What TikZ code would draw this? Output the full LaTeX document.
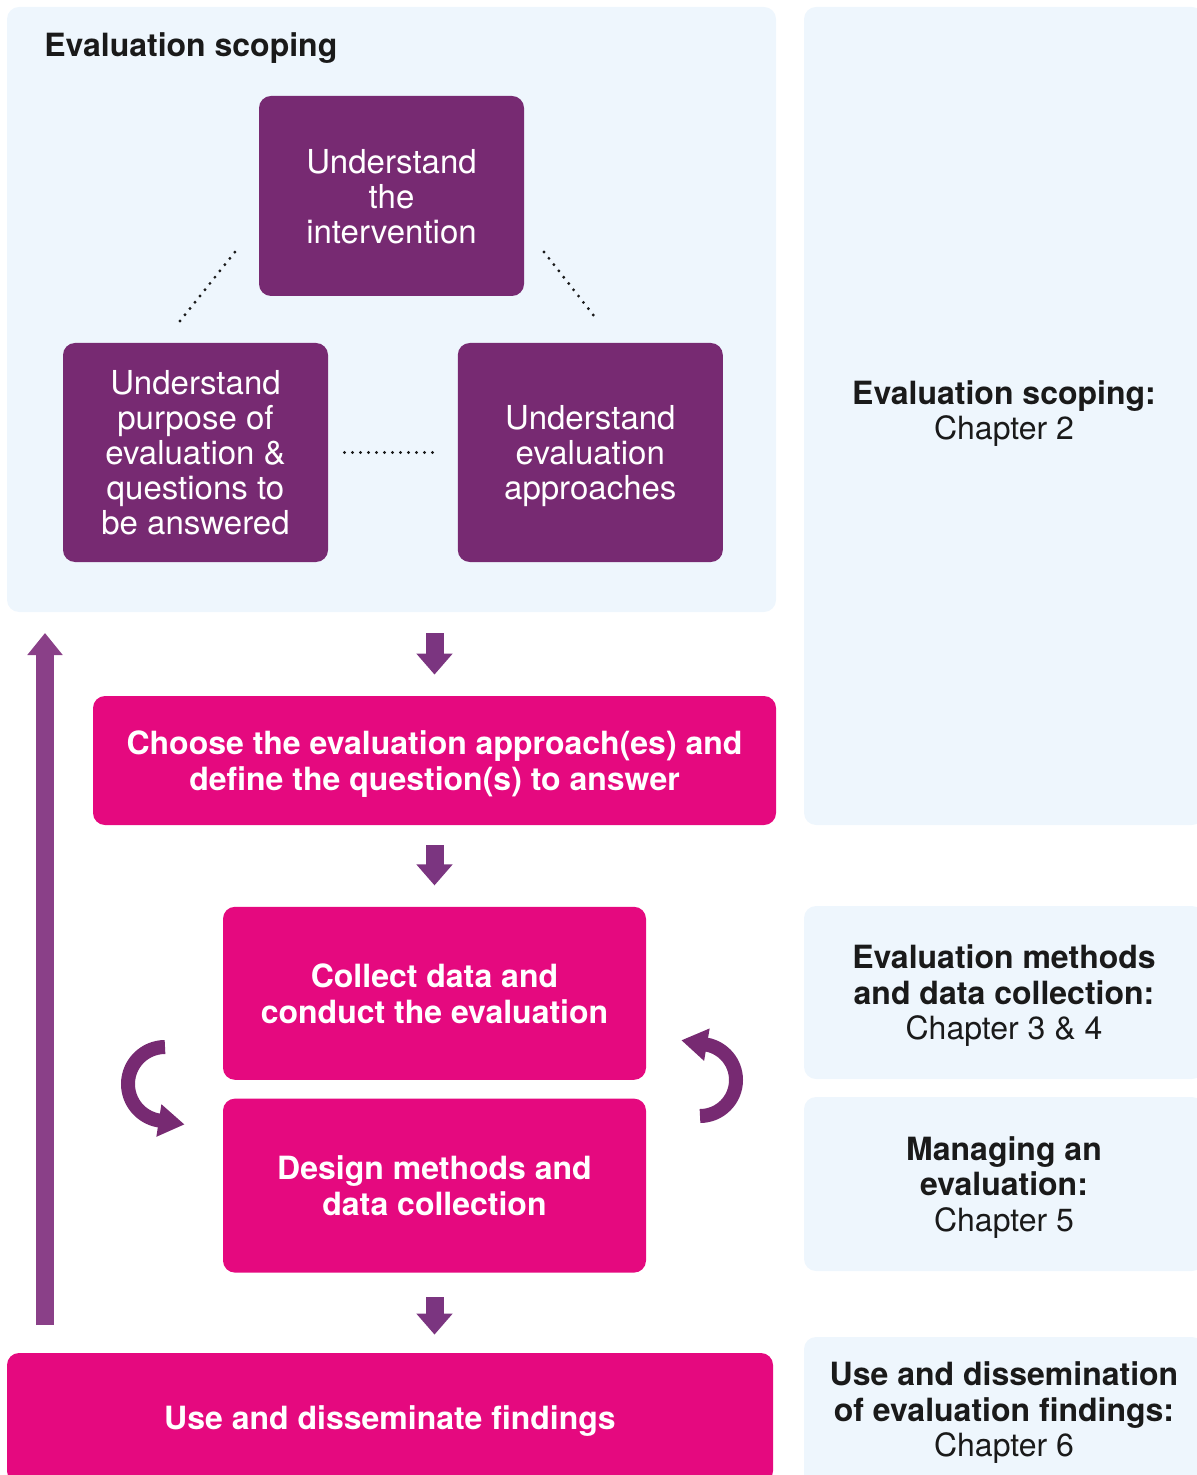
\documentclass[tikz,border=0pt]{standalone}
\usepackage{fontspec}
\setmainfont{TeX Gyre Heros}
\usepackage{tikz}
\usetikzlibrary{arrows.meta, positioning}
\definecolor{panelbg}{HTML}{EEF6FD}
\definecolor{plum}{HTML}{772A72}
\definecolor{pinkbox}{HTML}{E5097F}
\definecolor{arrowplum}{HTML}{7B3580}
\definecolor{upplum}{HTML}{8A4088}
\definecolor{darktext}{HTML}{1A1A1A}

\begin{document}
\begin{tikzpicture}[x=0.5pt, y=-0.5pt,
        panel/.style={fill=panelbg, rounded corners=6pt, inner sep=0pt, minimum width=200pt},
        phase/.style={fill=plum, rounded corners=6pt, text=white, align=center, text depth=0pt, minimum width=132.5pt, font=\fontsize{16.5pt}{17.5pt}\selectfont},
        task/.style={fill=pinkbox, rounded corners=6pt, text=white, align=center, text depth=0pt, font=\fontsize{16pt}{18pt}\selectfont\bfseries},
        note/.style={align=center, text=darktext, text depth=0pt, font=\fontsize{16pt}{17.75pt}\selectfont},
        linkdots/.style={draw=darktext, line width=1.6pt, line cap=round, dash pattern=on 0pt off 4pt},
        drop/.style={draw=arrowplum, line width=9pt, -{Triangle[width=17.5pt, length=10.5pt]}},
        rise/.style={draw=upplum, line width=9pt, -{Triangle[width=17pt, length=11pt]}},
        curl/.style={draw=plum, line width=7pt, -{Triangle[width=15.5pt, length=13pt]}}]
        \clip (0,0) rectangle (1197,1475);

        \node[panel, minimum width=384.5pt, minimum height=302.5pt] (scope) at (391.5,309.5) {};
        \node[panel, minimum height=409pt] (ch2) at (1004,416) {};
        \node[panel, minimum height=86.5pt] (ch34) at (1004,992.5) {};
        \node[panel, minimum height=87pt] (ch5) at (1004,1184) {};
        \node[panel, minimum height=81.5pt] (ch6) at (1004,1418.5) {};

        \node[anchor=west, inner sep=0pt, text depth=0pt, text=darktext, font=\fontsize{16pt}{18pt}\selectfont\bfseries] (scopetitle) at (44,45) {Evaluation scoping};

        \node[phase, minimum height=100pt] (intervention) at (391.5,196) {Understand\\the\\intervention};
        \node[phase, minimum height=109.5pt] (purpose) at (195.5,452.5) {Understand\\purpose of\\evaluation \&\\questions to\\be answered};
        \node[phase, minimum height=109.5pt, right=64.5pt of purpose] (approaches) {Understand\\evaluation\\approaches};

        \coordinate (dotla) at (180,321);
        \coordinate (dotlb) at (235,252);
        \coordinate (dotra) at (544,252);
        \coordinate (dotrb) at (598,321);
        \draw[linkdots] (dotla) -- (dotlb);
        \draw[linkdots] (dotra) -- (dotrb);
        \draw[linkdots, shorten <=8pt, shorten >=10pt] (purpose) -- (approaches);

        \node[task, minimum width=341.5pt, minimum height=64.5pt] (choose) at (434.5,760.5) {Choose the evaluation approach(es) and\\define the question(s) to answer};
        \node[task, minimum width=211.5pt, minimum height=86.5pt, below=40.5pt of choose] (collect) {Collect data and\\conduct the evaluation};
        \node[task, minimum width=211.5pt, minimum height=87pt, below=9pt of collect] (design) {Design methods and\\data collection};
        \node[task, minimum width=383pt, minimum height=65pt] (findings) at (390,1418) {Use and disseminate findings};

        \node[note, yshift=3pt] (lab2) at (ch2) {\textbf{Evaluation scoping:}\\Chapter 2};
        \node[note] (lab34) at (ch34) {\textbf{Evaluation methods}\\\textbf{and data collection:}\\Chapter 3 \& 4};
        \node[note] (lab5) at (ch5) {\textbf{Managing an}\\\textbf{evaluation:}\\Chapter 5};
        \node[note] (lab6) at (1004,1409.5) {\textbf{Use and dissemination}\\\textbf{of evaluation findings:}\\Chapter 6};

        \draw[drop, shorten <=10.5pt, shorten >=10.5pt] (scope.south -| choose.north) -- (choose.north);
        \draw[drop, shorten <=10pt, shorten >=10.5pt] (choose.south) -- (collect.north);
        \draw[drop, shorten <=12pt, shorten >=9pt] (design.south) -- (design.south |- findings.north);

        \coordinate (risebase) at (45,1325);
        \coordinate (risetop) at (45,633);
        \draw[rise] (risebase) -- (risetop);

        \coordinate (lcurl) at (165,1047);
        \coordinate (rcurl) at (700,1116);
        \draw[curl] (lcurl) arc[start angle=270, end angle=100, radius=37] -- ++(26,4);
        \draw[curl] (rcurl) arc[start angle=90, end angle=-80, radius=36] -- ++(-25,-4.3);
    \end{tikzpicture}
\end{document}
